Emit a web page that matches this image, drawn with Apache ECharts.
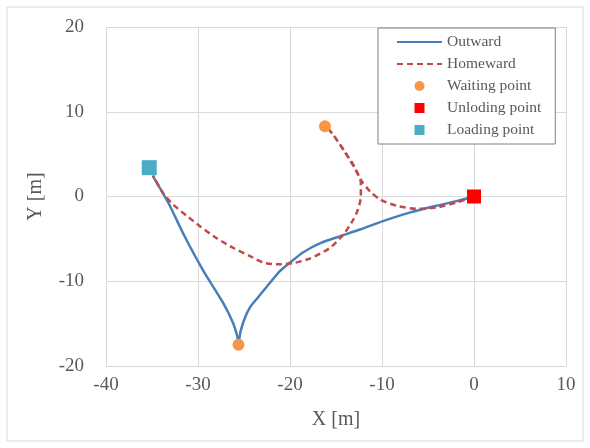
<!DOCTYPE html>
<html>
<head>
<meta charset="utf-8">
<script src="https://cdn.jsdelivr.net/npm/echarts@6/dist/echarts.min.js"></script>
<style>
  html, body { margin: 0; padding: 0; background: #fff; }
  #chart { width: 590px; height: 448px; }
</style>
</head>
<body>
<div id="chart"></div>
<script>
// trajectory, [x, y] in metres
var outward = [
  [-34.9, 2.4], [-33.2, -0.8], [-31.5, -4.6], [-29.4, -8.8], [-27.3, -12.5],
  [-26.2, -14.9], [-25.75, -16.4], [-25.6, -17.2],
  [-25.35, -15.8], [-24.9, -14.3], [-24.3, -13.0], [-23.4, -11.8], [-22.2, -10.2],
  [-21.1, -8.8], [-20.0, -7.8], [-18.6, -6.6], [-16.7, -5.5], [-14.6, -4.7],
  [-12.4, -3.9], [-9.9, -2.9], [-7.0, -1.9], [-4.1, -1.1], [-1.9, -0.55], [0, 0]
]
var homeward = [
  [0, 0], [-1.9, -0.7], [-4.1, -1.3], [-6.2, -1.45], [-8.4, -1.1],
  [-10.2, -0.35], [-11.3, 0.6], [-12.2, 1.8], [-13.1, 3.6], [-14.2, 5.5],
  [-15.3, 7.3], [-16.0, 8.2],
  [-15.2, 7.1], [-14.1, 5.4], [-13.0, 3.5], [-12.3, 1.6], [-12.3, 0.0],
  [-12.6, -1.5], [-13.1, -2.7], [-14.2, -4.5], [-15.7, -6.1], [-17.8, -7.3],
  [-19.6, -7.85], [-21.1, -8.0], [-22.9, -7.8], [-24.4, -7.0], [-26.2, -6.05],
  [-28.0, -4.9], [-29.8, -3.5], [-31.2, -2.3], [-32.7, -0.95], [-33.8, 0.4],
  [-34.9, 2.5]
]
var waitingPoints = [[-25.6, -17.5], [-16.2, 8.3]]
var unloadingPoints = [[0, 0]]
var loadingPoints = [[-35.3, 3.4]]
var seriesNames = ['Outward', 'Homeward', 'Waiting point', 'Unloding point', 'Loading point']

var textColor = '#595959'
var font = 'Liberation Serif'
var squareIcon = 'path://M0,0h10v10h-10z'

var myChart = echarts.init(document.getElementById('chart'))
myChart.setOption({
  animation: false,
  backgroundColor: '#fff',
  graphic: [
    {
      type: 'rect',
      shape: { x: 7, y: 7, width: 576, height: 434 },
      style: { fill: 'none', stroke: '#d9d9d9', lineWidth: 1 },
      silent: true
    }
  ],
  grid: { left: 106, right: 24, top: 27, bottom: 82 },
  legend: {
    orient: 'vertical',
    left: 378,
    top: 28,
    padding: [6, 14, 6, 18],
    itemWidth: 45,
    itemHeight: 10,
    itemGap: 6,
    borderColor: '#808080',
    borderWidth: 1,
    backgroundColor: '#fff',
    symbolKeepAspect: true,
    textStyle: { fontFamily: font, fontSize: 15.5, color: textColor, lineHeight: 16 },
    data: [
      { name: seriesNames[0], itemStyle: { opacity: 0 } },
      { name: seriesNames[1], itemStyle: { opacity: 0 } },
      { name: seriesNames[2], icon: 'circle', itemStyle: { color: '#f79646' } },
      { name: seriesNames[3], icon: squareIcon, itemStyle: { color: '#ff0000' } },
      { name: seriesNames[4], icon: squareIcon, itemStyle: { color: '#4bacc6' } }
    ]
  },
  xAxis: {
    type: 'value',
    min: -40,
    max: 10,
    interval: 10,
    name: 'X [m]',
    nameLocation: 'middle',
    nameGap: 44,
    nameTextStyle: { fontFamily: font, fontSize: 20, color: textColor },
    axisLine: { show: false },
    axisTick: { show: false },
    axisLabel: { fontFamily: font, fontSize: 19, color: textColor, margin: 10 },
    splitLine: { show: true, lineStyle: { color: '#d9d9d9', width: 1 } }
  },
  yAxis: {
    type: 'value',
    min: -20,
    max: 20,
    interval: 10,
    name: 'Y [m]',
    nameLocation: 'middle',
    nameGap: 60,
    nameTextStyle: { fontFamily: font, fontSize: 20, color: textColor },
    axisLine: { show: false },
    axisTick: { show: false },
    axisLabel: { fontFamily: font, fontSize: 19, color: textColor, margin: 22 },
    splitLine: { show: true, lineStyle: { color: '#d9d9d9', width: 1 } }
  },
  series: [
    {
      name: seriesNames[0],
      type: 'line',
      data: outward,
      smooth: 0.2,
      symbol: 'none',
      lineStyle: { color: '#4a7ebb', width: 2.5 },
      itemStyle: { color: '#4a7ebb' }
    },
    {
      name: seriesNames[1],
      type: 'line',
      data: homeward,
      smooth: 0.25,
      symbol: 'none',
      lineStyle: { color: '#be4b48', width: 2.5, type: [6, 4] },
      itemStyle: { color: '#be4b48' }
    },
    {
      name: seriesNames[2],
      type: 'scatter',
      data: waitingPoints,
      symbol: 'circle',
      symbolSize: 12,
      itemStyle: { color: '#f79646', opacity: 1 },
      z: 5
    },
    {
      name: seriesNames[3],
      type: 'scatter',
      data: unloadingPoints,
      symbol: 'rect',
      symbolSize: 14,
      itemStyle: { color: '#ff0000', opacity: 1 },
      z: 5
    },
    {
      name: seriesNames[4],
      type: 'scatter',
      data: loadingPoints,
      symbol: 'rect',
      symbolSize: 15,
      itemStyle: { color: '#4bacc6', opacity: 1 },
      z: 5
    }
  ]
})
</script>
</body>
</html>
